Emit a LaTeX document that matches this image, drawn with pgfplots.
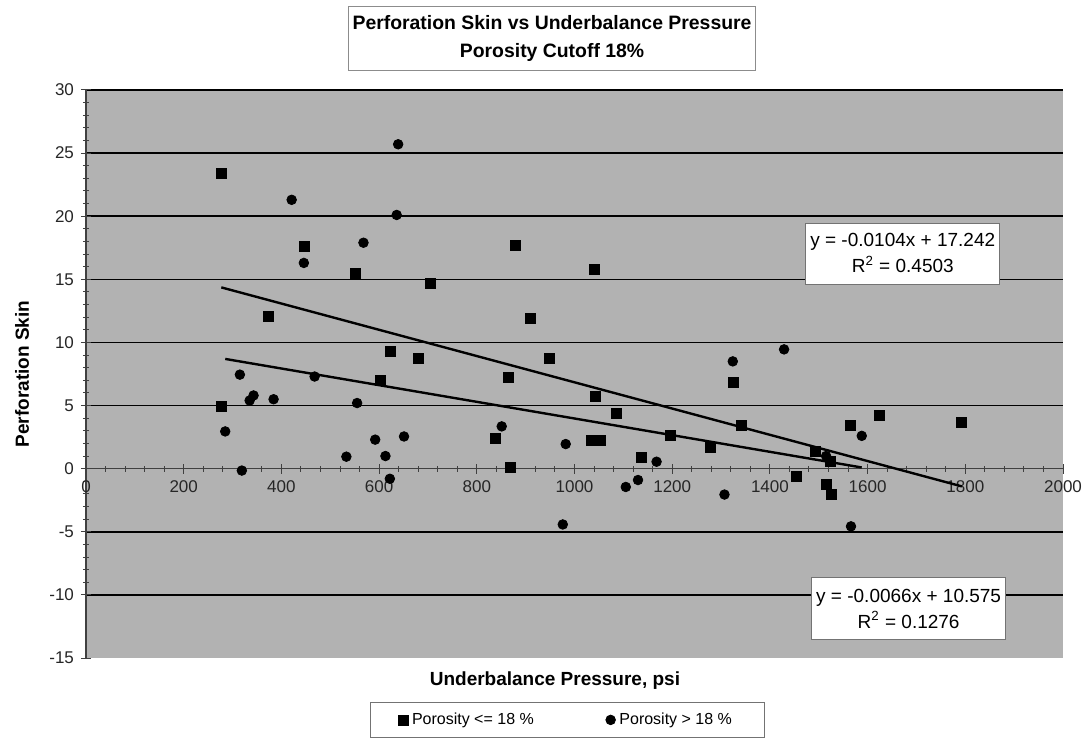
\documentclass[border=0pt]{standalone}
\usepackage{fontspec}
\setmainfont{Liberation Sans}
\usepackage{pgfplots}
\usepackage{pgfplotstable}
\pgfplotsset{compat=1.18}

\definecolor{plotgray}{RGB}{178,178,178}

% Porosity <= 18 %
\pgfplotstableread{
x     y
277   23.4
277   4.9
374   12.1
447   17.6
552   15.5
602   7.0
624   9.3
681   8.7
706   14.7
839   2.4
864   7.25
869   0.1
880   17.7
909   11.9
948   8.7
1034  2.2
1040  15.8
1042  5.7
1053  2.25
1086  4.4
1137  0.9
1196  2.6
1279  1.7
1326  6.8
1341  3.4
1455  -0.6
1493  1.35
1516  -1.25
1523  0.55
1525  -2.05
1564  3.45
1625  4.2
1793  3.7
}\lowpor

% Porosity > 18 %
\pgfplotstableread{
x     y
285   2.95
315   7.45
319   -0.15
335   5.4
343   5.8
384   5.5
421   21.3
446   16.3
468   7.3
533   0.95
555   5.2
568   17.9
592   2.3
613   1.0
622   -0.8
636   20.1
639   25.7
651   2.55
851   3.35
976   -4.42
982   1.95
1105  -1.45
1130  -0.9
1168  0.55
1307  -2.05
1324  8.5
1429  9.45
1515  1.0
1566  -4.57
1588  2.6
}\highpor

\begin{document}
\begin{tikzpicture}
\begin{axis}[
  at={(0,0)}, anchor=south west,
  scale only axis, width=488.5pt, height=284pt,
  xmin=0, xmax=2000, ymin=-15, ymax=30,
  axis x line*=middle, axis y line*=left,
  hide obscured x ticks=false,
  xtick={0,200,...,2000},
  ytick={-10,-5,...,30},
  extra y ticks={-15}, extra y tick style={grid=none},
  minor x tick num=4, minor y tick num=4,
  tick align=center,
  major tick length=5pt, minor tick length=3pt,
  axis line style={black!75, line width=0.6pt},
  tick style={black!75, line width=0.5pt},
  ymajorgrids, grid style={black, line width=0.8pt},
  axis background/.style={fill=plotgray},
  /pgf/number format/assume math mode=true,
  /pgf/number format/1000 sep={},
  ticklabel style={font=\fontsize{8.5}{10}\selectfont, text=black!85},
  xlabel={Underbalance Pressure, psi},
  ylabel={Perforation Skin},
  xlabel style={at={(axis description cs:0.48,-0.0405)}, anchor=center,
    font=\fontsize{9.5}{11}\selectfont\bfseries},
  ylabel style={at={(axis description cs:-0.0655,0.5)}, anchor=center, rotate=0,
    font=\fontsize{9.5}{11}\selectfont\bfseries},
  every axis title shift=0pt,
  title={Perforation Skin vs Underbalance Pressure\\Porosity Cutoff 18\%},
  title style={at={(axis description cs:0.477,1.09)}, anchor=center,
    draw=black!45, fill=white, align=center, inner xsep=2pt, inner ysep=3pt,
    minimum height=32pt, font=\fontsize{9.7}{14}\selectfont\bfseries},
  legend columns=2,
  legend cell align=left,
  legend style={at={(axis description cs:0.4923,-0.109)}, anchor=center,
    draw=black!55, fill=white, font=\fontsize{8}{10}\selectfont,
    inner xsep=14pt, inner ysep=3pt,
    /tikz/every even column/.append style={column sep=34pt}},
  clip=false,
]
\addplot[only marks, mark=square*, mark size=2.5pt, black] table {\lowpor};
\addlegendentry{Porosity <= 18 \%}
\addplot[only marks, mark=*, mark size=2.4pt, black] table {\highpor};
\addlegendentry{Porosity > 18 \%}

% linear trend lines over each series' range
\addplot[black, line width=1.2pt, forget plot] coordinates {(277,14.361) (1793,-1.405)};
\addplot[black, line width=1.2pt, forget plot] coordinates {(285,8.694) (1588,0.094)};

\node[draw=black!55, fill=white, align=center, inner sep=2pt,
      minimum width=97pt, minimum height=30.5pt,
      font=\fontsize{9.5}{13}\selectfont]
  at (axis cs:1672,17.05) {y = -0.0104x + 17.242\\R\textsuperscript{2} = 0.4503};
\node[draw=black!55, fill=white, align=center, inner sep=2pt,
      minimum width=97pt, minimum height=31pt,
      font=\fontsize{9.5}{13}\selectfont]
  at (axis cs:1684,-11.08) {y = -0.0066x + 10.575\\R\textsuperscript{2} = 0.1276};
\end{axis}
\pgfresetboundingbox
\path[use as bounding box] (-43pt,-40pt) rectangle (502pt,329pt);
\end{tikzpicture}
\end{document}
